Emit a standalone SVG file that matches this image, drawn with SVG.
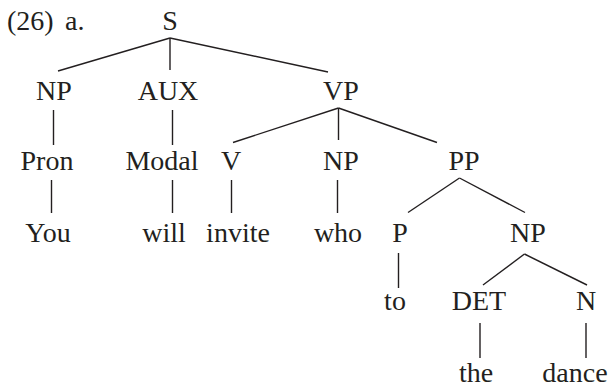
<svg xmlns="http://www.w3.org/2000/svg" width="610" height="387" viewBox="0 0 610 387">
<style>
text{font-family:"Liberation Serif","DejaVu Serif",serif;font-size:28px;fill:#231f20;text-anchor:middle}
.e line{stroke:#231f20;stroke-width:1.4;stroke-linecap:butt}
</style>
<rect width="610" height="387" fill="#fff"/>
<text x="7" y="30" style="text-anchor:start">(26)</text>
<text x="65" y="30" style="text-anchor:start">a.</text>
<g id="n-S"><text x="170" y="30">S</text></g>
<g id="n-NP1"><text x="54" y="100">NP</text></g>
<g id="n-AUX"><text x="168" y="100">AUX</text></g>
<g id="n-VP"><text x="341" y="100">VP</text></g>
<g id="n-Pron"><text x="47" y="170">Pron</text></g>
<g id="n-Modal"><text x="162" y="170">Modal</text></g>
<g id="n-V"><text x="231" y="170">V</text></g>
<g id="n-NP2"><text x="341" y="170">NP</text></g>
<g id="n-PP"><text x="464" y="170">PP</text></g>
<g id="n-You"><text x="48" y="242">You</text></g>
<g id="n-will"><text x="164" y="242">will</text></g>
<g id="n-invite"><text x="238" y="242">invite</text></g>
<g id="n-who"><text x="338" y="242">who</text></g>
<g id="n-P"><text x="400" y="242">P</text></g>
<g id="n-NP3"><text x="528" y="242">NP</text></g>
<g id="n-to"><text x="395" y="310">to</text></g>
<g id="n-DET"><text x="479" y="310">DET</text></g>
<g id="n-N"><text x="586" y="310">N</text></g>
<g id="n-the"><text x="476" y="382">the</text></g>
<g id="n-dance"><text x="575" y="382">dance</text></g>
<g class="e" id="edges">
<line x1="170" y1="38" x2="58" y2="71"/>
<line x1="170" y1="38" x2="170" y2="70"/>
<line x1="170" y1="38" x2="328" y2="72"/>
<line x1="53.5" y1="110" x2="53.5" y2="145"/>
<line x1="172.5" y1="110" x2="172.5" y2="145"/>
<line x1="338.5" y1="108" x2="233" y2="142.5"/>
<line x1="338.5" y1="108" x2="338.5" y2="140"/>
<line x1="338.5" y1="108" x2="437" y2="142.5"/>
<line x1="51.5" y1="180" x2="51.5" y2="213"/>
<line x1="172.5" y1="180" x2="172.5" y2="213"/>
<line x1="231.5" y1="180" x2="231.5" y2="213"/>
<line x1="337.5" y1="180" x2="337.5" y2="213"/>
<line x1="459.5" y1="178" x2="408" y2="212.5"/>
<line x1="459.5" y1="178" x2="525" y2="212.5"/>
<line x1="398.5" y1="253" x2="398.5" y2="288"/>
<line x1="524.5" y1="254" x2="483" y2="285"/>
<line x1="524.5" y1="254" x2="587" y2="285"/>
<line x1="480" y1="323" x2="480" y2="358"/>
<line x1="586" y1="323" x2="586" y2="358"/>
</g>
</svg>
